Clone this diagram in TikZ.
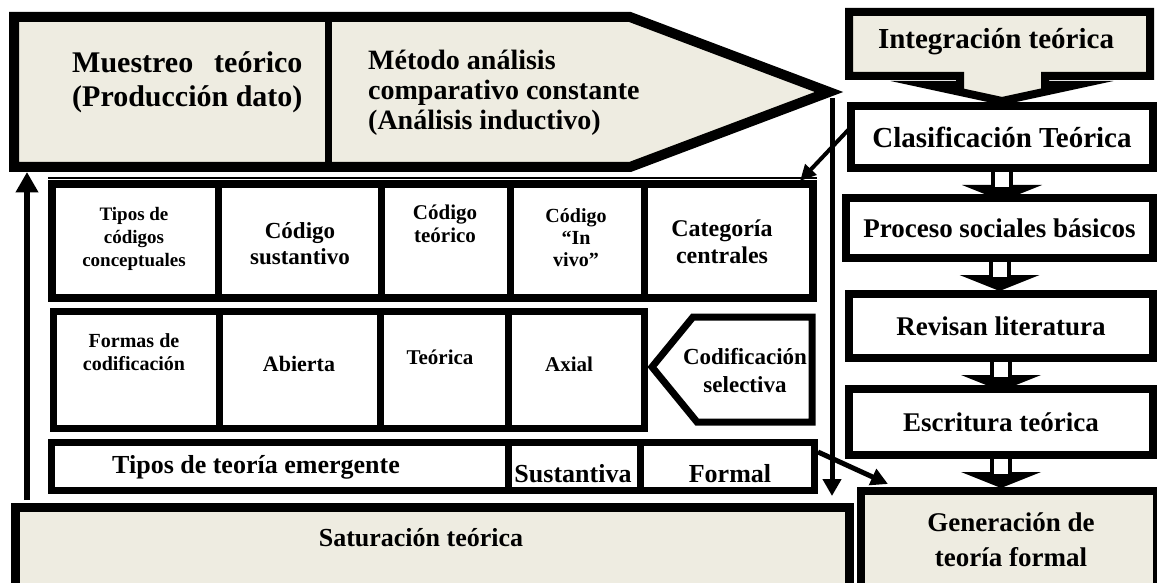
\documentclass[tikz,border=0pt]{standalone}
\usepackage{fontspec}
\setmainfont{Liberation Serif}
\usetikzlibrary{arrows.meta}
\definecolor{beige}{HTML}{EEECE1}
\newcommand\fsz[2]{\fontsize{#1}{#2}\selectfont\bfseries}
\newsavebox\prodbox
\newlength\prodwd
\begin{document}
\sbox\prodbox{\fsz{30}{34}(Producción dato)}%
\setlength\prodwd{\wd\prodbox}%
\begin{tikzpicture}[x=1pt,y=-1pt,
  txt/.style={align=center, inner sep=0pt},
  frame/.style={draw=black, line width=7pt, line join=miter},
  rbox/.style={draw=black, line width=8pt, fill=white, inner sep=0pt, font=\fsz{27}{30}},
  downarr/.pic={\fill[black] (-40,13) -- (40,13) -- (0,29) -- cycle;
     \draw[line width=4pt, fill=white] (-9,-2) rectangle (9,17);},
  bigarrow/.style={line width=#1, -{Triangle[width=3.6*#1,length=3.4*#1]}}
]
\useasboundingbox (0,0) rectangle (1157,583);

% ---------- top banner ----------
\draw[line width=10pt, fill=beige, line join=miter]
  (14,17) -- (630,17) -- (829,92) -- (630,167) -- (14,167) -- cycle;
\draw[line width=7pt] (328,17) -- (328,167);
\coordinate (bannerbottom) at (27,172);
\coordinate (bannertip) at (832,98);
\node[txt, font=\fsz{30}{34}, align=left, anchor=west] (muestreo) at (72,82)
  {\hbox to \prodwd{Muestreo\hfill teórico}\\(Producción dato)};
\node[txt, font=\fsz{28}{30}, align=left, anchor=north west] (metodo) at (368,50)
  {Método análisis\\comparativo constante\\(Análisis inductivo)};

% ---------- thin line above frame ----------
\draw[line width=1.5pt] (48,178) -- (817,178);

% ---------- row 1 ----------
\draw[frame, line width=8pt, fill=white] (52,184) rectangle (813,298);
\foreach \x in {218,381,510,644} \draw[line width=7pt] (\x,184) -- (\x,298);
\coordinate (frameNE) at (800,181);
\node[txt, font=\fsz{19}{23}] (tipos) at (134,239) {Tipos de\\códigos\\conceptuales};
\node[txt, font=\fsz{23}{26}] (csust) at (300,244) {Código\\sustantivo};
\node[txt, font=\fsz{21}{23}] (cteor) at (445,224) {Código\\teórico};
\node[txt, font=\fsz{20}{22}] (cvivo) at (576,238) {Código\\“In\\vivo”};
\node[txt, font=\fsz{24}{27}] (categ) at (722,242) {Categoría\\centrales};

% ---------- row 2 ----------
\draw[frame, fill=white] (53,311) rectangle (644,428);
\foreach \x in {219,380,508} \draw[line width=7pt] (\x,311) -- (\x,428);
\draw[frame, fill=white] (693,317) -- (812,317) -- (812,422) -- (697,422) -- (652,367) -- cycle;
\node[txt, font=\fsz{20}{23}] (formas) at (134,352) {Formas de\\codificación};
\node[txt, font=\fsz{22}{24}] (abierta) at (299,364) {Abierta};
\node[txt, font=\fsz{21}{24}] (teorica) at (440,357) {Teórica};
\node[txt, font=\fsz{21}{24}] (axial) at (569,364) {Axial};
\node[txt, font=\fsz{23}{28}] (selec) at (745,371) {Codificación\\selectiva};

% ---------- row 3 ----------
\draw[frame, fill=white] (51,442) rectangle (814,490);
\foreach \x in {508,640} \draw[line width=7pt] (\x,442) -- (\x,490);
\node[txt, font=\fsz{26}{28}] (tiposteo) at (256,467) {Tipos de teoría emergente};
\node[txt, font=\fsz{26}{28}] (sust) at (573,474) {Sustantiva};
\node[txt, font=\fsz{26}{28}] (formal) at (730,474) {Formal};
\coordinate (formalNE) at (818,452);

% ---------- bottom box ----------
\node[draw, line width=9pt, fill=beige, minimum width=834pt, minimum height=84pt,
      anchor=north west, inner sep=0pt] (sat) at (11,503) {};
\node[txt, font=\fsz{26}{28}] (sattxt) at (421,538) {Saturación teórica};
\coordinate (satup) at (27,500);
\coordinate (satdown) at (832,496);

% ---------- right column ----------
\draw[line width=8pt, fill=beige, line join=miter]
  (849,12) -- (1150,12) -- (1150,76) -- (1045,76) -- (1045,85) -- (1076,85)
  -- (1002,101) -- (928,85) -- (960,85) -- (960,76) -- (849,76) -- cycle;
\node[txt, font=\fsz{29}{30}] (integ) at (996,42) {Integración teórica};

\node[rbox, minimum width=302pt, minimum height=62pt, font=\fsz{29}{30}] (clas) at (1002,137) {Clasificación Teórica};
\node[rbox, minimum width=307pt, minimum height=60pt] (proc) at (999.5,228) {Proceso sociales básicos};
\node[rbox, minimum width=304pt, minimum height=64pt] (rev) at (1001,326) {Revisan literatura};
\node[rbox, minimum width=304pt, minimum height=66pt] (escr) at (1001,422) {Escritura teórica};
\node[draw, line width=8pt, fill=beige, minimum width=296pt, minimum height=104pt,
      anchor=north west, inner sep=0pt] (gen) at (857,487) {};
\node[txt, font=\fsz{27}{35}] (gentxt) at (1011,540) {Generación de\\teoría formal};

\path (clas.south) pic {downarr};
\path (proc.south) pic {downarr};
\path (rev.south) pic {downarr};
\path (escr.south) pic {downarr};

% ---------- connectors ----------
\coordinate (clasW) at (851,127);
\coordinate (genNW) at (888,484);
\draw[bigarrow=6pt] (satup) -- (bannerbottom);
\draw[bigarrow=5pt] (bannertip) -- (satdown);
\draw[line width=4pt, -{Triangle[width=15pt,length=16pt]}] (clasW) -- (frameNE);
\draw[line width=5pt, -{Triangle[width=17pt,length=17pt]}] (formalNE) -- (genNW);
\end{tikzpicture}
\end{document}
